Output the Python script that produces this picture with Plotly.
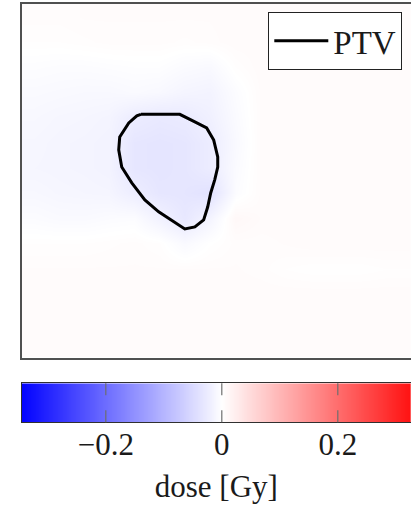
import numpy as np
import plotly.graph_objects as go

# grid coordinates (mm)
x_mm = [0, 10, 20, 30, 40, 50, 60, 70, 80, 90, 100, 110, 120, 130, 140, 150]
y_mm = [0, 10, 20, 30, 40, 50, 60, 70, 80, 90, 100, 110, 120, 130]

# dose difference [Gy], rows = y_mm, cols = x_mm
dose_diff = [
    [0.004, 0.004, 0.005, 0.005, 0.005, 0.005, 0.005, 0.005, 0.006, 0.006, 0.006, 0.006, 0.006, 0.006, 0.006, 0.006],
    [0.002, 0.002, 0.003, 0.004, 0.004, 0.004, 0.003, 0.004, 0.006, 0.006, 0.006, 0.006, 0.006, 0.006, 0.006, 0.006],
    [-0.003, -0.004, -0.004, -0.003, -0.002, -0.002, -0.006, -0.008, 0.002, 0.006, 0.006, 0.006, 0.006, 0.006, 0.006, 0.006],
    [-0.007, -0.008, -0.009, -0.009, -0.007, -0.009, -0.014, -0.016, -0.004, 0.005, 0.006, 0.006, 0.006, 0.006, 0.006, 0.006],
    [-0.010, -0.012, -0.013, -0.015, -0.026, -0.030, -0.028, -0.020, -0.006, 0.005, 0.006, 0.006, 0.006, 0.006, 0.006, 0.006],
    [-0.012, -0.014, -0.015, -0.017, -0.034, -0.036, -0.034, -0.026, -0.008, 0.005, 0.006, 0.006, 0.006, 0.006, 0.006, 0.006],
    [-0.013, -0.014, -0.015, -0.017, -0.034, -0.036, -0.034, -0.026, -0.006, 0.005, 0.006, 0.006, 0.006, 0.006, 0.006, 0.006],
    [-0.010, -0.012, -0.013, -0.014, -0.024, -0.034, -0.035, -0.040, -0.004, 0.005, 0.006, 0.006, 0.006, 0.006, 0.006, 0.006],
    [-0.005, -0.007, -0.007, -0.005, -0.004, -0.018, -0.032, -0.015, 0.010, 0.006, 0.006, 0.006, 0.006, 0.006, 0.006, 0.006],
    [0.002, 0.002, 0.002, 0.003, 0.004, 0.002, -0.008, 0.000, 0.004, 0.004, 0.005, 0.006, 0.006, 0.006, 0.006, 0.006],
    [0.005, 0.005, 0.005, 0.005, 0.005, 0.005, 0.005, 0.005, 0.005, 0.004, 0.002, 0.001, 0.001, 0.001, 0.002, 0.002],
    [0.006, 0.006, 0.006, 0.006, 0.006, 0.006, 0.006, 0.006, 0.006, 0.006, 0.006, 0.006, 0.006, 0.006, 0.006, 0.006],
    [0.006, 0.006, 0.006, 0.006, 0.006, 0.006, 0.006, 0.006, 0.006, 0.006, 0.006, 0.006, 0.006, 0.006, 0.006, 0.006],
    [0.006, 0.006, 0.006, 0.006, 0.006, 0.006, 0.006, 0.006, 0.006, 0.006, 0.006, 0.006, 0.006, 0.006, 0.006, 0.006],
]

# PTV contour (mm)
ptv_x = [42.4, 57.9, 63.9, 68.6, 71.4, 73.0, 73.0, 71.8, 70.2, 69.0, 67.4, 63.9, 59.9,
         55.5, 49.5, 44.0, 38.8, 34.8, 33.6, 34.0, 37.6, 40.8]
ptv_y = [38.8, 38.8, 41.8, 44.2, 49.0, 55.7, 59.7, 64.8, 70.0, 75.6, 80.7, 83.5, 84.3,
         81.5, 77.5, 72.8, 66.0, 59.7, 52.9, 47.8, 42.2, 39.4]

# colour bar
cb_levels = [round(v, 4) for v in np.linspace(-0.35, 0.35, 71)]
cb_ticks = [-0.2, 0, 0.2]
cb_ticktext = ["\u22120.2", "0", "0.2"]

colorscale = [[0.0, "rgb(0,0,255)"], [0.5, "rgb(255,255,255)"], [1.0, "rgb(255,0,0)"]]
ZMIN, ZMAX = -0.35, 0.35
FONT = "Liberation Serif"

fig = go.Figure()
fig.add_trace(go.Heatmap(x=x_mm, y=y_mm, z=dose_diff, colorscale=colorscale,
                         zmin=ZMIN, zmax=ZMAX, zsmooth="best", showscale=False,
                         hoverinfo="skip", showlegend=False))
fig.add_trace(go.Scatter(x=ptv_x + [ptv_x[0]], y=ptv_y + [ptv_y[0]], mode="lines",
                         line=dict(color="black", width=3), name="PTV"))
fig.add_trace(go.Heatmap(x=cb_levels, y=[0], z=[cb_levels], colorscale=colorscale,
                         zmin=ZMIN, zmax=ZMAX, zsmooth="best", showscale=False,
                         xaxis="x2", yaxis="y2", hoverinfo="skip", showlegend=False))

for t in cb_ticks:
    fig.add_shape(type="line", xref="x2", yref="y2 domain", x0=t, x1=t, y0=1, y1=0,
                  line=dict(color="#6e6e6e", width=1.2, dash="12px,15px"), layer="above")

W, H = 411, 510
left = 21.7 / W
fig.update_layout(
    width=W, height=H, margin=dict(l=0, r=0, t=0, b=0),
    paper_bgcolor="white", plot_bgcolor="white",
    xaxis=dict(domain=[left, 1], range=[-5, 149.9], showgrid=False, zeroline=False,
               showticklabels=False, ticks="", showline=True, mirror=True,
               linecolor="#505050", linewidth=1.5),
    yaxis=dict(domain=[1 - 357.7 / H, 1 - 4 / H], range=[135.4, -5], showgrid=False,
               zeroline=False, showticklabels=False, ticks="", showline=True,
               mirror=False, linecolor="#505050", linewidth=1.5),
    xaxis2=dict(anchor="y2", domain=[left, 1], range=[-0.345, -0.345 + 389.3 / 580],
                tickvals=cb_ticks, ticktext=cb_ticktext, ticks="", showgrid=False,
                zeroline=False, showline=True, mirror=True, linecolor="#303030",
                linewidth=1.2, tickfont=dict(family=FONT, size=31, color="#1a1a1a"),
                ticklabelstandoff=-6,
                title=dict(text="dose [Gy]", font=dict(family=FONT, size=31, color="#1a1a1a"),
                           standoff=14)),
    yaxis2=dict(anchor="x2", domain=[1 - 422.3 / H, 1 - 383.3 / H], range=[-0.5, 0.5],
                showgrid=False, zeroline=False, showticklabels=False, ticks="",
                showline=True, mirror=True, linecolor="#303030", linewidth=1.2),
    legend=dict(x=268.3 / W, y=1 - 11.7 / H, xanchor="left", yanchor="top",
                bgcolor="white", bordercolor="#222", borderwidth=1,
                font=dict(family=FONT, size=33, color="#1a1a1a"), itemwidth=54),
    showlegend=True,
)

fig.write_html("out.html")
